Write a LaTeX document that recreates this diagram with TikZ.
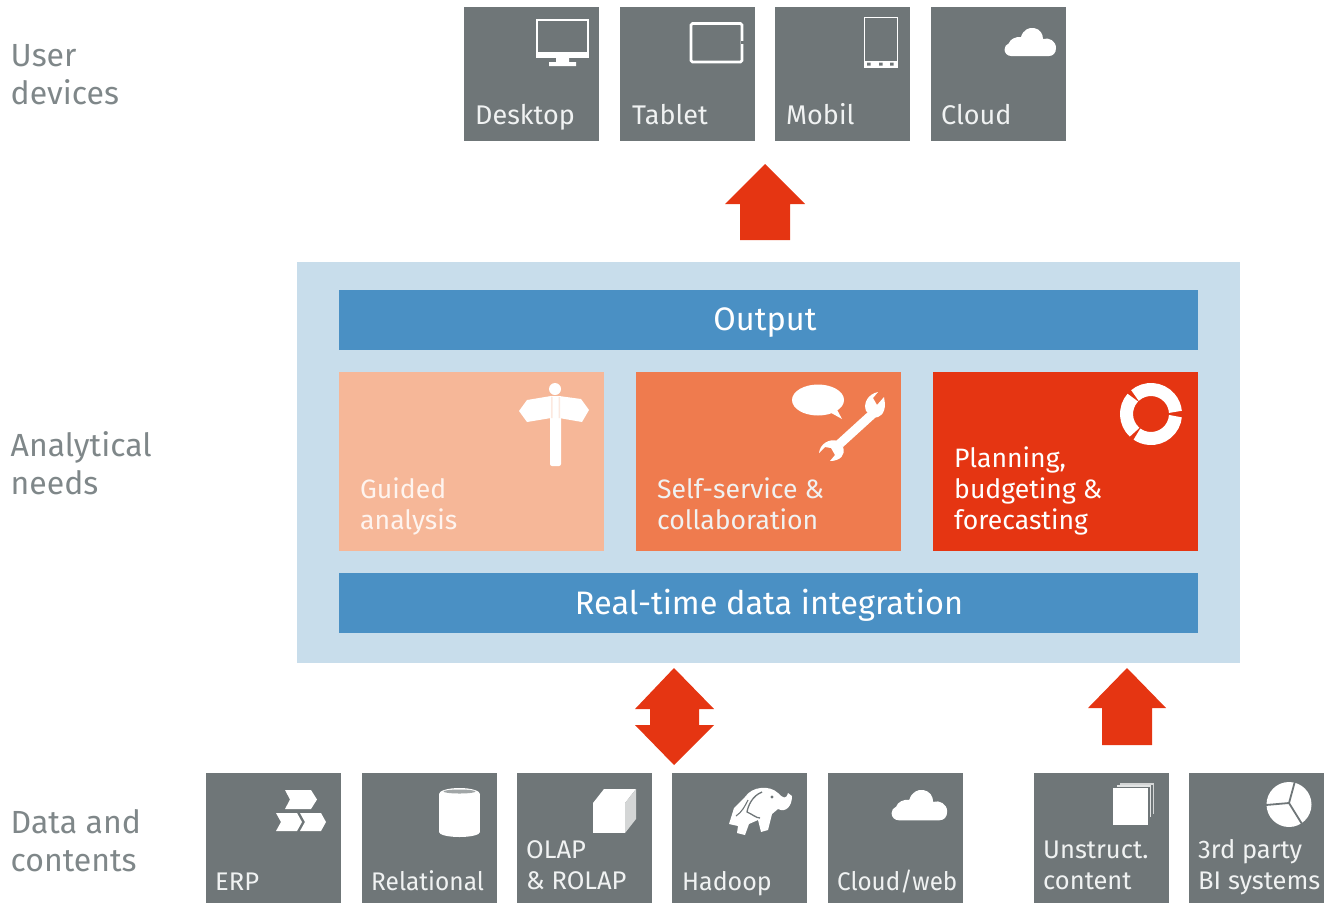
\documentclass[tikz,border=0pt]{standalone}
\usepackage{fontspec}
\setmainfont{Fira Sans}
\definecolor{tile}{HTML}{6F7678}
\definecolor{panelc}{HTML}{C8DDEB}
\definecolor{barc}{HTML}{4A90C4}
\definecolor{lightc}{HTML}{F6B798}
\definecolor{midc}{HTML}{EF7B4E}
\definecolor{redc}{HTML}{E53512}
\definecolor{labelc}{HTML}{7F8789}
\definecolor{tilet}{HTML}{F0F2F2}
\tikzset{
 tilebox/.style={fill=tile,draw=none,inner sep=0pt,minimum width=135pt,minimum height=134pt,anchor=north west},
 lowbox/.style={tilebox,minimum height=130pt},
 tiletext/.style={text=tilet,font=\fontsize{27}{31}\selectfont,anchor=base west,inner sep=0pt,align=left},
 cardtext/.style={tiletext,font=\fontsize{26.6}{31}\selectfont},
 lowtext/.style={tiletext,font=\fontsize{25.5}{31}\selectfont},
 sidetext/.style={text=labelc,font=\fontsize{32}{38.5}\selectfont,anchor=base west,inner sep=0pt,align=left},
 bartext/.style={text=white,font=\fontsize{32.5}{36}\selectfont,inner sep=0pt},
 cardbox/.style={draw=none,inner sep=0pt,minimum width=265pt,minimum height=179pt,anchor=north west},
 barbox/.style={fill=barc,draw=none,inner sep=0pt,minimum width=859pt,minimum height=60pt,anchor=north west},
 bigarrow/.style={fill=redc,draw=none},
 iconline/.style={draw=white,fill=none,line width=1.6pt}
}
\newcommand{\cloudicon}[3]{% x,y,scale: box 52x28 at scale 1
 \fill[white,shift={(#1,#2)},scale=#3] (7,28) arc[start angle=90,end angle=250,radius=6.5] .. controls (6,11) and (12,8.5) .. (17,9) .. controls (19,2) and (25,-1) .. (30,0) .. controls (36,1) and (39,6) .. (39,11) .. controls (45,9) and (52,13) .. (52,20) .. controls (52,25) and (49,28) .. (45,28) -- cycle;}
\begin{document}
\begin{tikzpicture}[x=1pt,y=-1pt]
\useasboundingbox (0,0) rectangle (1329,903);
% side labels
\node[sidetext] (ud) at (10.5,104.5) {User\\devices};
\node[sidetext] (an) at (10.5,494.5) {Analytical\\needs};
\node[sidetext] (dc) at (10.5,871.5) {Data and\\contents};
% top tiles
\node[tilebox] (desktop) at (464,7) {};
\node[tilebox] (tablet) at (620,7) {};
\node[tilebox] (mobil) at (775,7) {};
\node[tilebox] (cloud) at (931,7) {};
\node[tiletext] at (475,124) {Desktop};
\node[tiletext] at (632,124) {Tablet};
\node[tiletext] at (786,124) {Mobil};
\node[tiletext] at (941,124) {Cloud};
% monitor
\draw[iconline] (537,20) rectangle (588,53);
\fill[white] (536,53) rectangle (589,57.5);
\fill[white] (556,57.5) rectangle (569,62) (549,62) rectangle (576,66);
% tablet
\draw[iconline,line width=2.6pt,rounded corners=1.5pt] (691,23.5) rectangle (742,62);
\fill[tile] (741,41) rectangle (743.5,44);
% phone
\draw[iconline,line width=1.2pt] (864.5,17.5) rectangle (897.5,67);
\fill[white] (864,60.5) rectangle (898,68);
\fill[tile] (867,62.5) rectangle (870.5,65.5) (879,62.5) rectangle (882.5,65.5) (890,62.5) rectangle (893.5,65.5);
\cloudicon{1004}{28}{1}
% top arrow
\fill[bigarrow] (765,164) -- (805,204) -- (790,204) -- (790,240) -- (740,240) -- (740,204) -- (725,204) -- cycle;
% panel
\node[fill=panelc,draw=none,inner sep=0pt,minimum width=943pt,minimum height=401pt,anchor=north west] (panel) at (297,262) {};
\node[barbox] (output) at (339,290) {};
\node[bartext] at (765,323) {Output};
\node[barbox] (rtdi) at (339,573) {};
\node[bartext] at (769,605) {Real-time data integration};
\node[cardbox,fill=lightc] (guided) at (339,372) {};
\node[cardbox,fill=midc] (self) at (636,372) {};
\node[cardbox,fill=redc] (plan) at (933,372) {};
\node[cardtext,text=white!85!lightc] at (360,529) {Guided\\analysis};
\node[cardtext] at (657,529) {Self-service \&\\collaboration};
\node[cardtext,text=white] at (954,529) {Planning,\\budgeting \&\\forecasting};
% signpost
\fill[white,rounded corners=2pt] (550,396) rectangle (561,466);
\fill[white] (555,389) circle (6);
\fill[white] (551,396) -- (527,400) -- (519,411) -- (527,422) -- (551,418) -- cycle;
\fill[white] (559,396) -- (581,399) -- (589,410) -- (582,422) -- (559,418) -- cycle;
\fill[white!70!lightc] (551,397) rectangle (552.5,418) (558.5,397) rectangle (560,418);
% speech bubble
\fill[white] (818,400) ellipse (26 and 15.5);
\fill[white] (826,410) -- (842,419) -- (835,406) -- cycle;
% wrench
\fill[white] (869,411) -- (876,417) -- (843,447) -- (836,441) -- cycle;
\fill[white] (885,404) .. controls (885,413) and (880,419) .. (873,417) -- (866,411) .. controls (863,403) and (868,394) .. (878,392) -- (873,398) -- (877,405) -- (884,397) -- cycle;
\fill[white] (819,453) .. controls (820,444) and (829,438) .. (838,441) -- (843,447) .. controls (846,455) and (840,461) .. (830,461) -- (835,455) -- (831,448) -- (825,447) -- cycle;
% cycle icon
\draw[white,line width=13pt] (1151,414) ++(5:24.5) arc[start angle=5,end angle=125,radius=24.5];
\draw[white,line width=13pt] (1151,414) ++(132:24.5) arc[start angle=132,end angle=222,radius=24.5];
\draw[white,line width=13pt] (1151,414) ++(229:24.5) arc[start angle=229,end angle=355,radius=24.5];
% double arrow
\fill[bigarrow] (674,668) -- (714,709) -- (699,709) -- (699,725) -- (714,725) -- (674,765) -- (635,725) -- (650,725) -- (650,709) -- (635,709) -- cycle;
% single arrow
\fill[bigarrow] (1127,668) -- (1166,708) -- (1152,708) -- (1152,745) -- (1102,745) -- (1102,708) -- (1088,708) -- cycle;
% bottom tiles
\node[lowbox] (erp) at (206,773) {};
\node[lowbox] (rel) at (362,773) {};
\node[lowbox] (olap) at (517,773) {};
\node[lowbox] (hadoop) at (672,773) {};
\node[lowbox] (cweb) at (828,773) {};
\node[lowbox] (unstr) at (1034,773) {};
\node[lowbox] (bi) at (1189,773) {};
\node[lowtext] at (215,890) {ERP};
\node[lowtext] at (371,890) {\scalebox{0.96}[1]{Relational}};
\node[lowtext] at (526,889) {OLAP\\\& ROLAP};
\node[lowtext] at (682,890) {\scalebox{0.98}[1]{Hadoop}};
\node[lowtext] at (837,890) {\scalebox{0.95}[1]{Cloud/web}};
\node[lowtext] at (1043,889) {Unstruct.\\content};
\node[lowtext] at (1198,889) {3rd party\\BI systems};
% ERP chevrons
\fill[white] (285,790) -- (311,790) -- (317,799.5) -- (311,809) -- (285,809) -- (290,799.5) -- cycle;
\fill[white] (276,813) -- (297,813) -- (302,822) -- (297,831) -- (276,831) -- (281,822) -- cycle;
\fill[white] (300,813) -- (321,813) -- (326,822) -- (321,831) -- (300,831) -- (305,822) -- cycle;
% cylinder
\fill[white] (439,794) rectangle (480,832);
\fill[white] (459.5,794) ellipse (20.5 and 6);
\fill[white] (459.5,832) ellipse (20.5 and 5);
\fill[tile!65!white] (459.5,791.5) ellipse (16 and 2);
% cube
\fill[white] (593,803) rectangle (625,833);
\fill[white] (593,803) -- (604,789) -- (636,789) -- (625,803) -- cycle;
\fill[white!70!tile] (625,803) -- (636,789) -- (636,819) -- (625,833) -- cycle;
% elephant
\fill[white] (745,797) .. controls (752,786) and (770,785) .. (778,793) .. controls (783,798) and (786,800) .. (788,793) -- (792,796) .. controls (792,806) and (786,813) .. (778,809) -- (772,814) -- (768,830) -- (761,832) -- (758,820) -- (749,824) -- (745,835) -- (737,833) -- (738,826) -- (729,824) -- (734,808) -- cycle;
\draw[tile,line width=1.3pt] (762,792) .. controls (752,796) and (748,806) .. (747,812) .. controls (752,814) and (756,818) .. (760,818);
\draw[tile,line width=1.1pt] (736,816) .. controls (742,812) and (745,806) .. (748,800);
\fill[tile] (772,797) circle (1.6);
% cloud 2
\cloudicon{891}{790}{1.08}
% pages
\draw[white!70!tile,line width=1.1pt] (1120,784) -- (1153.5,784) -- (1153.5,814);
\draw[white!80!tile,line width=1.1pt] (1117,786) -- (1150.5,786) -- (1150.5,817);
\fill[white] (1113,788) rectangle (1148,825);
% pie
\fill[white] (1289,804.5) circle (22.5);
\draw[tile,line width=1.8pt] (1266,805) -- (1289,803) -- (1302,824) (1289,803) -- (1295,781);
\end{tikzpicture}
\end{document}
